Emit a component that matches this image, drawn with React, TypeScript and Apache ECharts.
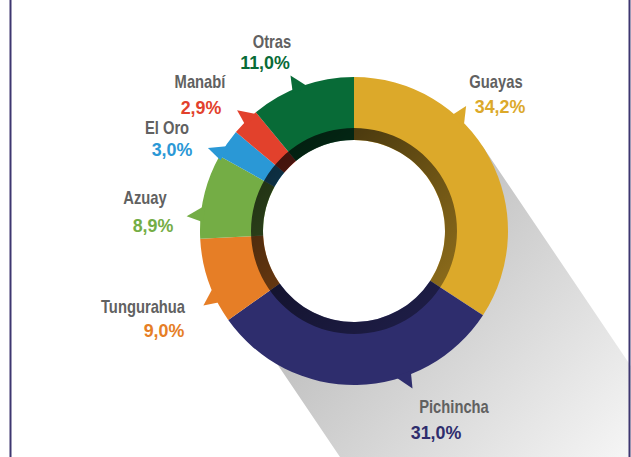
import React, { useEffect, useRef } from "react";
import * as echarts from "echarts";

// ---- data ----
const categories = ["Guayas", "Pichincha", "Tungurahua", "Azuay", "El Oro", "Manabí", "Otras"];
const shares = [34.2, 31.0, 9.0, 8.9, 3.0, 2.9, 11.0];
const colors = ["#dca92a", "#2e2d6d", "#e67e26", "#74ad45", "#2a98d6", "#e2412c", "#086b37"];

// ---- layout (decoration only) ----
const nameLabelPos = [[496, 81], [454, 406], [143, 306], [145, 197], [167, 127], [200, 81], [272, 41]];
const valueLabelPos = [[500, 106], [436, 432], [164, 330], [153, 225], [172, 149], [201, 107], [265, 62]];
const tailFraction = [0.34, 0.327, 0.277, 0.246, 0.04, 0.569, 0.439];

const CX = 354;
const CY = 231;
const R_IN = 91;
const R_OUT = 154;
const R_BAND = 103;

const rad = (d: number) => (d * Math.PI) / 180;
const polar = (deg: number, r: number): [number, number] => [
  CX + r * Math.sin(rad(deg)),
  CY - r * Math.cos(rad(deg)),
];

function buildShadow(): number[][] {
  const a = rad(56);
  const d = [Math.cos(a), Math.sin(a)];
  const n = [Math.sin(a), -Math.cos(a)];
  const pr = [CX + R_OUT * n[0], CY + R_OUT * n[1]];
  const leftDist = 138;
  const t = Math.sqrt(150 * 150 - leftDist * leftDist);
  const pl = [CX - leftDist * n[0] + t * d[0], CY - leftDist * n[1] + t * d[1]];
  const far = 700;
  const pts: number[][] = [];
  pts.push(pr);
  pts.push([pr[0] + far * d[0], pr[1] + far * d[1]]);
  pts.push([pl[0] + far * d[0], pl[1] + far * d[1]]);
  pts.push(pl);
  const aStart = Math.atan2(pl[1] - CY, pl[0] - CX);
  const aEnd = Math.atan2(pr[1] - CY, pr[0] - CX);
  const steps = 40;
  for (let i = 0; i <= steps; i++) {
    const ang = aStart + ((aEnd - aStart) * i) / steps;
    pts.push([CX + 150 * Math.cos(ang), CY + 150 * Math.sin(ang)]);
  }
  return pts;
}

function buildTails(): any[] {
  const total = shares.reduce((s, v) => s + v, 0);
  let acc = 0;
  const out: any[] = [];
  shares.forEach((v, i) => {
    const start = (acc / total) * 360;
    const span = (v / total) * 360;
    acc += v;
    const tip = start + span * tailFraction[i];
    const baseC = tip + 1.5;
    const p1 = polar(baseC - 3.2, 151);
    const p2 = polar(baseC + 3.2, 151);
    const pt = polar(tip, 168);
    out.push({
      type: "polygon",
      z: 10,
      silent: true,
      shape: { points: [p1, pt, p2] },
      style: { fill: colors[i] },
    });
  });
  return out;
}

function buildLabels(): any[] {
  const out: any[] = [];
  categories.forEach((name, i) => {
    out.push({
      type: "text",
      z: 20,
      x: nameLabelPos[i][0],
      y: nameLabelPos[i][1],
      scaleX: 0.82,
      silent: true,
      style: {
        text: name,
        x: 0,
        y: 0,
        fill: "#616161",
        fontFamily: '"Liberation Sans", Arial, sans-serif',
        fontWeight: "bold",
        fontSize: 18,
        align: "center",
        verticalAlign: "middle",
        textAlign: "center",
        textVerticalAlign: "middle",
      },
    });
    out.push({
      type: "text",
      z: 20,
      x: valueLabelPos[i][0],
      y: valueLabelPos[i][1],
      scaleX: 0.94,
      silent: true,
      style: {
        text: shares[i].toFixed(1).replace(".", ",") + "%",
        x: 0,
        y: 0,
        fill: colors[i],
        fontFamily: '"Liberation Sans", Arial, sans-serif',
        fontWeight: "bold",
        fontSize: 19,
        align: "center",
        verticalAlign: "middle",
        textAlign: "center",
        textVerticalAlign: "middle",
      },
    });
  });
  return out;
}

export default function App() {
  const ref = useRef<HTMLDivElement>(null);
  useEffect(() => {
    if (!ref.current) return;
    const chart = echarts.init(ref.current, undefined, { renderer: "svg" });
    const option: any = {
      animation: false,
      backgroundColor: "#ffffff",
      graphic: {
        elements: [
          {
            type: "polygon",
            z: -10,
            silent: true,
            shape: { points: buildShadow() },
            style: {
              fill: {
                type: "linear",
                x: 380,
                y: 270,
                x2: 650,
                y2: 520,
                global: true,
                colorStops: [
                  { offset: 0, color: "#c3c3c3" },
                  { offset: 1, color: "#ffffff" },
                ],
              },
            },
          },
          {
            type: "line",
            silent: true,
            shape: { x1: 10.5, y1: 0, x2: 10.5, y2: 457 },
            style: { stroke: "#3e3770", lineWidth: 2 },
          },
          {
            type: "line",
            silent: true,
            shape: { x1: 629.5, y1: 0, x2: 629.5, y2: 457 },
            style: { stroke: "#3e3770", lineWidth: 2 },
          },
          ...buildTails(),
          ...buildLabels(),
        ],
      },
      series: [
        {
          type: "pie",
          center: [CX, CY],
          radius: [R_IN, R_OUT],
          startAngle: 90,
          clockwise: true,
          silent: true,
          z: 2,
          label: { show: false },
          labelLine: { show: false },
          itemStyle: { borderWidth: 0 },
          data: categories.map((name, i) => ({
            name,
            value: shares[i],
            itemStyle: { color: colors[i] },
          })),
        },
        {
          type: "pie",
          center: [CX, CY],
          radius: [R_IN, R_BAND],
          silent: true,
          z: 3,
          label: { show: false },
          labelLine: { show: false },
          itemStyle: { borderWidth: 0 },
          data: [
            {
              value: 1,
              name: "band",
              itemStyle: {
                color: new echarts.graphic.LinearGradient(0, 0, 1, 1, [
                  { offset: 0, color: "rgba(0,0,0,0.78)" },
                  { offset: 1, color: "rgba(0,0,0,0.3)" },
                ]),
              },
            },
          ],
        },
      ],
    };
    chart.setOption(option);
    return () => chart.dispose();
  }, []);
  return (
    <div
      ref={ref}
      style={{ position: "absolute", left: 0, top: 0, width: 631, height: 457 }}
    />
  );
}
